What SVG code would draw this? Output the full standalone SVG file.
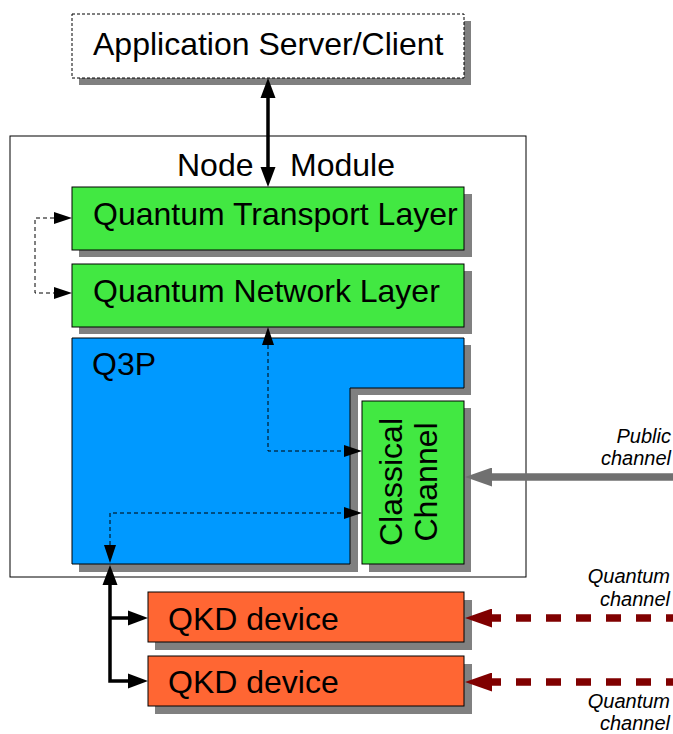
<svg xmlns="http://www.w3.org/2000/svg" width="673" height="734" viewBox="0 0 673 734">
<style>
text{font-family:"Liberation Sans",Arial,sans-serif;fill:#000}
.t{font-size:32px}
.lbl{font-size:20px;font-style:italic;text-anchor:end}
.sh{fill:#808080;stroke:none}
.box{stroke:#000;stroke-width:1}
.green{fill:#42e842}
.blue{fill:#0099ff}
.orange{fill:#ff6633}
.thick{fill:none;stroke:#000;stroke-width:3.5}
.dash{fill:none;stroke:#000;stroke-width:1;stroke-dasharray:4 3}
</style>
<defs>
<marker id="ab" markerUnits="userSpaceOnUse" markerWidth="22" markerHeight="16" refX="0" refY="7.5" orient="auto-start-reverse" viewBox="0 0 22 15"><path d="M0,0 L20,7.5 L0,15 z" fill="#000"/></marker>
<marker id="ad" markerUnits="userSpaceOnUse" markerWidth="18" markerHeight="12" refX="0" refY="6" orient="auto-start-reverse" viewBox="0 0 18 12"><path d="M0,0 L18,6 L0,12 z" fill="#000"/></marker>
<marker id="ar" markerUnits="userSpaceOnUse" markerWidth="27" markerHeight="19" refX="0" refY="9.5" orient="auto-start-reverse" viewBox="0 0 27 19"><path d="M0,0 L27,9.5 L0,19 z" fill="#800000"/></marker>
<marker id="ag" markerUnits="userSpaceOnUse" markerWidth="27" markerHeight="19" refX="0" refY="9.5" orient="auto-start-reverse" viewBox="0 0 27 19"><path d="M0,0 L27,9.5 L0,19 z" fill="#707070"/></marker>
</defs>

<g id="app">
<rect class="sh" x="79" y="21" width="392" height="64"/>
<rect x="72" y="14" width="392" height="64" fill="#fff" stroke="#000" stroke-width="1" stroke-dasharray="3 2"/>
<text class="t" x="93" y="55">Application Server/Client</text>
</g>

<g id="node-module">
<rect x="10" y="136" width="516" height="441" fill="#fff" stroke="#000" stroke-width="1"/>
<text class="t" x="177" y="176">Node</text>
<text class="t" x="290" y="176">Module</text>
</g>

<g id="qtl">
<rect class="sh" x="79" y="194" width="393" height="63"/>
<rect class="box green" x="72" y="187" width="392" height="63"/>
<text class="t" x="93" y="225">Quantum Transport Layer</text>
</g>

<g id="qnl">
<rect class="sh" x="79" y="271" width="393" height="63"/>
<rect class="box green" x="72" y="264" width="392" height="63"/>
<text class="t" x="93" y="302">Quantum Network Layer</text>
</g>

<g id="q3p">
<polygon class="sh" points="79,345 471,345 471,395 358,395 358,572 79,572"/>
<polygon class="box blue" points="72,338 464,338 464,388 350,388 350,564 72,564"/>
<text class="t" x="92" y="375">Q3P</text>
</g>

<g id="classical">
<rect class="sh" x="369" y="408" width="102" height="164"/>
<rect class="box green" x="362" y="401" width="102" height="163"/>
<text class="t" transform="translate(402,482) rotate(-90)" text-anchor="middle">Classical</text>
<text class="t" transform="translate(437,482) rotate(-90)" text-anchor="middle">Channel</text>
</g>

<g id="qkd1">
<rect class="sh" x="155" y="600" width="317" height="50"/>
<rect class="box orange" x="148" y="592" width="316" height="50"/>
<text class="t" x="168" y="630">QKD device</text>
</g>

<g id="qkd2">
<rect class="sh" x="155" y="664" width="317" height="50"/>
<rect class="box orange" x="148" y="656" width="316" height="50"/>
<text class="t" x="168" y="693">QKD device</text>
</g>

<g id="labels">
<text class="lbl" x="671" y="443">Public</text>
<text class="lbl" x="671" y="465">channel</text>
<text class="lbl" x="670" y="583">Quantum</text>
<text class="lbl" x="670" y="606">channel</text>
<text class="lbl" x="670" y="708">Quantum</text>
<text class="lbl" x="670" y="730">channel</text>
</g>

<g id="connectors">
<path class="thick" d="M268,98 V167" marker-start="url(#ab)" marker-end="url(#ab)"/>
<path class="dash" d="M54,218 H35 V293 H54" marker-start="url(#ad)" marker-end="url(#ad)"/>
<path class="dash" d="M268,345 V451 H344" marker-start="url(#ad)" marker-end="url(#ad)"/>
<path class="dash" d="M110,545 V513 H344" marker-start="url(#ad)" marker-end="url(#ad)"/>
<path class="thick" d="M110,585 V681 H128" marker-start="url(#ab)" marker-end="url(#ab)"/>
<path class="thick" d="M110,618 H128" marker-end="url(#ab)"/>
<path d="M492,477 H673" fill="none" stroke="#707070" stroke-width="7.5" marker-start="url(#ag)"/>
<path d="M492,618 H673" fill="none" stroke="#800000" stroke-width="7.5" stroke-dasharray="15 15" stroke-dashoffset="6" marker-start="url(#ar)"/>
<path d="M492,682 H673" fill="none" stroke="#800000" stroke-width="7.5" stroke-dasharray="15 15" stroke-dashoffset="6" marker-start="url(#ar)"/>
</g>
</svg>
